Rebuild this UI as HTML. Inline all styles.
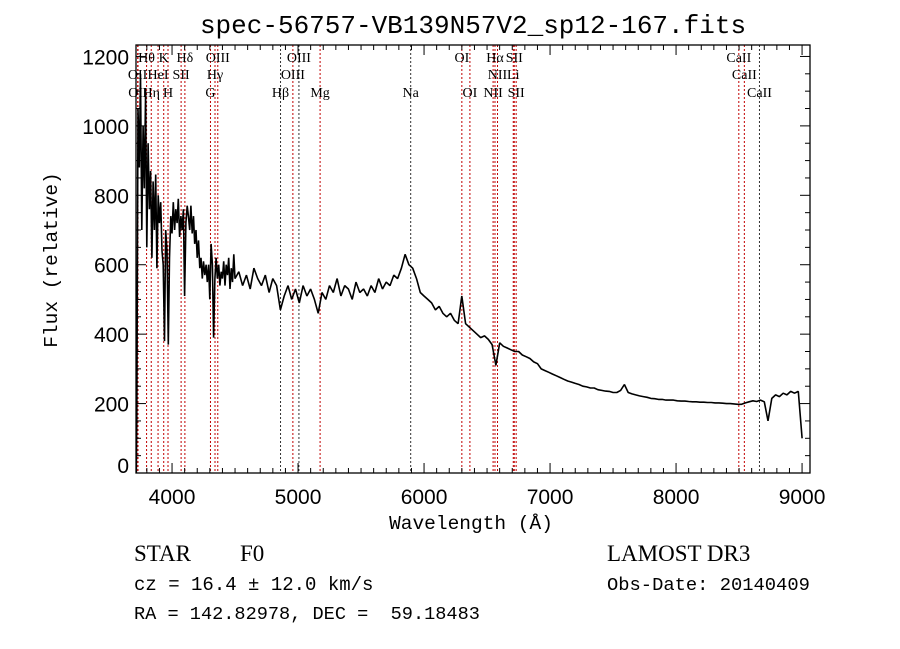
<!DOCTYPE html>
<html><head><meta charset="utf-8"><style>
body{margin:0;background:#fff;}
svg{display:block;}
</style></head><body>
<svg id="chart" width="900" height="649" viewBox="0 0 900 649" xmlns="http://www.w3.org/2000/svg">
<rect width="900" height="649" fill="#fff"/>
<text x="473" y="33" font-family="Liberation Mono, monospace" font-size="26" text-anchor="middle">spec-56757-VB139N57V2_sp12-167.fits</text>
<g id="lines"></g>
<g id="linelabels"></g>
<path id="spec" fill="none" stroke="#000" stroke-width="1.6" stroke-linejoin="bevel"/>
<g id="axes"></g>
<text x="471" y="529" font-family="Liberation Mono, monospace" font-size="19.5" text-anchor="middle">Wavelength (Å)</text>
<text transform="translate(57,260) rotate(-90)" font-family="Liberation Mono, monospace" font-size="19.5" text-anchor="middle">Flux (relative)</text>
<text x="134" y="561" font-family="Liberation Serif, serif" font-size="23">STAR</text>
<text x="240" y="561" font-family="Liberation Serif, serif" font-size="23">F0</text>
<text x="134" y="590" font-family="Liberation Mono, monospace" font-size="19">cz = 16.4 ± 12.0 km/s</text>
<text x="134" y="619" font-family="Liberation Mono, monospace" font-size="18.6" xml:space="preserve">RA = 142.82978, DEC =  59.18483</text>
<text x="607" y="561" font-family="Liberation Serif, serif" font-size="23">LAMOST DR3</text>
<text x="607" y="590" font-family="Liberation Mono, monospace" font-size="18.8">Obs-Date: 20140409</text>
</svg>
<script>
const segAStart = 3720, segAStep = 10;
const fluxA = [150,1050,880,1150,700,1000,820,1100,650,950,760,870,620,840,700,860,590,800,720,780,640,600,380,700,640,370,620,740,690,780,700,760,720,790,680,740,700,760,510,720,770,740,700,770,690,740,660,700,620,670,590,620,560,610,570,600,550,600,500,660,600,390,560,620,560,600,540,580,560,610,540,600,570,620,530,590,550,630,560];
const segBStart = 4530, segBStep = 30;
const fluxB = [580,540,570,530,590,560,540,570,520,560,540,470,510,540,500,530,490,540,510,530,500,460,520,500,540,520,560,510,540,530,500,550,520,530,510,540,520,560,530,550,540,570,560,590,630,600,590,560,520,510,500,490,470,480,460,450,460,440,430,510,430,420,410,400,390,395,385,370,310,375,365,360,355,350,350,340,335,330,320,315,300,295,290,285,280,275,270,265,262,258,255,250,248,245,245,240,238,236,235,232,232,238,255,232,228,225,222,220,218,215,214,212,212,210,210,210,208,207,207,206,205,205,204,204,203,203,202,202,201,200,200,199,198,198,202,205,208,206,210,205,150,215,225,220,230,225,235,230,235,100];
const lineWaves = [3727,3730,3798,3835,3889,3934,3968,4072,4102,4305,4341,4363,4861,4959,5007,5175,5894,6300,6364,6548,6563,6583,6708,6716,6731,8498,8542,8662];
const lineNames = ["OII","OII","Hθ","Hη","HeI","K","H","SII","Hδ","G","Hγ","OIII","Hβ","OIII","OIII","Mg","Na","OI","OI","NII","Hα","NII","Li","SII","SII","CaII","CaII","CaII"];
const lineRows = [2,3,1,3,2,1,3,2,1,3,2,1,3,2,1,3,3,1,3,3,1,2,2,1,3,1,2,3];
const lineRed = [1,1,1,1,1,1,1,1,1,1,1,1,0,1,0,1,0,1,1,1,1,1,1,1,1,1,1,0];
const xTicks = [4000,5000,6000,7000,8000,9000];
const yTicks = [0,200,400,600,800,1000,1200];

const X0=136,X1=810,Y0=473,Y1=45;
const LMIN=3714,LMAX=9063,FMIN=0,FMAX=1233;
function xs(l){return X0+(l-LMIN)/(LMAX-LMIN)*(X1-X0);}
function ys(f){return Y0-(f-FMIN)/(FMAX-FMIN)*(Y0-Y1);}
const NS="http://www.w3.org/2000/svg";
function mk(tag,attrs,parent){const e=document.createElementNS(NS,tag);for(const k in attrs)e.setAttribute(k,attrs[k]);parent.appendChild(e);return e;}

let pts=[];
fluxA.forEach((f,i)=>pts.push([xs(segAStart+i*segAStep),ys(f)]));
fluxB.forEach((f,i)=>pts.push([xs(segBStart+i*segBStep),ys(f)]));
let d="M"+xs(3716).toFixed(1)+","+ys(0).toFixed(1);
pts.forEach(p=>{d+=" L"+p[0].toFixed(1)+","+p[1].toFixed(1);});
document.getElementById('spec').setAttribute('d',d);

const lg=document.getElementById('lines'), lb=document.getElementById('linelabels');
const rowY=[0,62,79,97];
lineWaves.forEach((w,i)=>{
  const x=xs(w);
  const ln=mk('line',{x1:x,x2:x,y1:Y1,y2:Y0,stroke:lineRed[i]?'#c00000':'#333','stroke-width':1,'stroke-dasharray':'2,2'},lg);
  
  
  const t=mk('text',{x:x,y:rowY[lineRows[i]],'font-family':'Liberation Serif, serif','font-size':14,'text-anchor':'middle'},lb);
  t.textContent=lineNames[i];
  
  
});

const ax=document.getElementById('axes');
const fr=mk('rect',{x:X0,y:Y1,width:X1-X0,height:Y0-Y1,fill:'none',stroke:'#000','stroke-width':1.3},ax);


for(let l=3800;l<=9000;l+=100){
  const x=xs(l), major=(l%1000===0), len=major?10:5;
  mk('line',{x1:x,x2:x,y1:Y0,y2:Y0-len,stroke:'#000'},ax);
  mk('line',{x1:x,x2:x,y1:Y1,y2:Y1+len,stroke:'#000'},ax);
}
xTicks.forEach(v=>{
  const t=mk('text',{x:xs(v),y:Y0+31,'font-family':'Liberation Sans, sans-serif','font-size':21,'text-anchor':'middle'},ax);
  t.textContent=v;
  
  
});
for(let f=0;f<=1200;f+=50){
  const y=ys(f), major=(f%200===0), len=major?10:5;
  mk('line',{x1:X0,x2:X0+len,y1:y,y2:y,stroke:'#000'},ax);
  mk('line',{x1:X1,x2:X1-len,y1:y,y2:y,stroke:'#000'},ax);
}
yTicks.forEach(v=>{
  const t=mk('text',{x:X0-7,y:ys(v)+(v===0?0:8),'font-family':'Liberation Sans, sans-serif','font-size':21,'text-anchor':'end'},ax);
  t.textContent=v;
  
  
});
</script>
</body></html>
